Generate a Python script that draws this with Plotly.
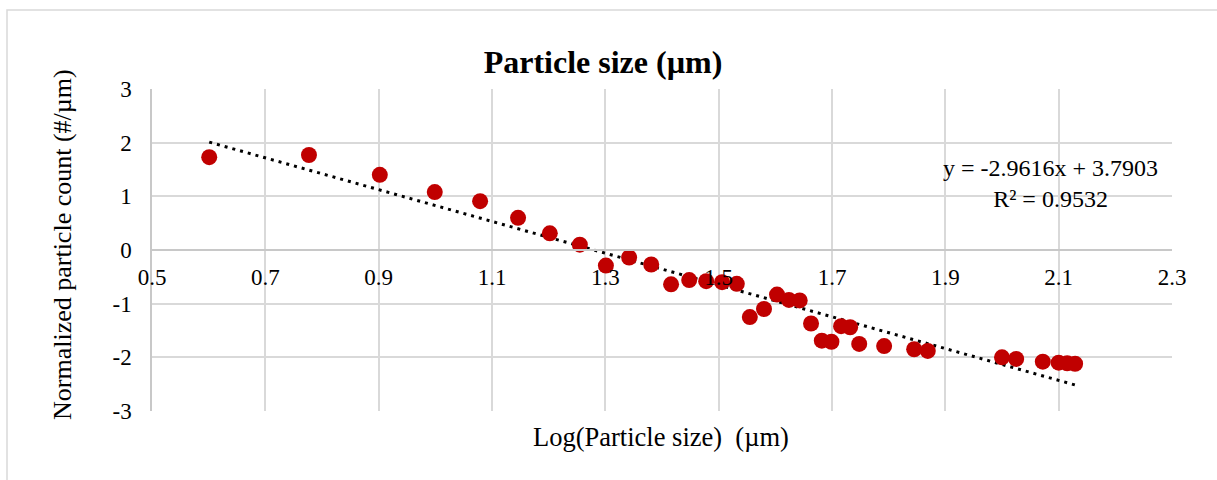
import plotly.graph_objects as go

# Data
log_size = [0.601, 0.777, 0.902, 0.999, 1.079, 1.146, 1.202, 1.255, 1.301, 1.342,
            1.381, 1.416, 1.448, 1.478, 1.506, 1.532, 1.555, 1.580, 1.603, 1.624,
            1.643, 1.663, 1.682, 1.699, 1.716, 1.732, 1.748, 1.792, 1.845, 1.869,
            2.000, 2.025, 2.072, 2.100, 2.115, 2.129]
norm_count = [1.73, 1.77, 1.40, 1.08, 0.91, 0.60, 0.31, 0.10, -0.29, -0.14,
              -0.27, -0.64, -0.56, -0.58, -0.60, -0.63, -1.25, -1.10, -0.83, -0.93,
              -0.94, -1.37, -1.69, -1.71, -1.42, -1.44, -1.75, -1.79, -1.85, -1.88,
              -2.00, -2.03, -2.08, -2.10, -2.11, -2.12]

slope = -2.9616
intercept = 3.7903
r2 = 0.9532

x_ticks = [0.5, 0.7, 0.9, 1.1, 1.3, 1.5, 1.7, 1.9, 2.1, 2.3]
y_ticks = [-3, -2, -1, 0, 1, 2, 3]

FONT = "Liberation Serif, Times New Roman, serif"
GRID = "#d9d9d9"
TICK_SIZE = 23

trend_x = [min(log_size), max(log_size)]
trend_y = [slope * v + intercept for v in trend_x]

fig = go.Figure()
fig.add_trace(go.Scatter(
    x=trend_x, y=trend_y, mode="lines",
    line=dict(color="black", width=3, dash="3px,5px"),
    hoverinfo="skip", showlegend=False,
))
fig.add_trace(go.Scatter(
    x=log_size, y=norm_count, mode="markers",
    marker=dict(color="#c00000", size=16, line=dict(width=0)),
    showlegend=False,
))

fig.update_layout(
    width=1217, height=480,
    paper_bgcolor="white", plot_bgcolor="white",
    margin=dict(l=152, r=45, t=89, b=69),
    font=dict(family=FONT, size=TICK_SIZE, color="black"),
    title=dict(text="<b>Particle size (µm)</b>", x=603 / 1217, xref="container",
               xanchor="center", y=1 - 62 / 480, yref="container", yanchor="middle",
               font=dict(family=FONT, size=32, color="black")),
    xaxis=dict(
        range=[0.5, 2.3], tickvals=x_ticks, ticktext=[f"{v:.1f}" for v in x_ticks],
        showgrid=True, gridcolor=GRID, gridwidth=1.5,
        zeroline=False, showline=True, linecolor="#c8c8c8", linewidth=1.5,
        anchor="free", position=0.5, ticks="", ticklabelstandoff=7,
        tickfont=dict(family=FONT, size=TICK_SIZE, color="black"),
    ),
    yaxis=dict(
        range=[-3, 3], tickvals=y_ticks, ticktext=[str(v) for v in y_ticks],
        showgrid=True, gridcolor=GRID, gridwidth=1.5,
        zeroline=False, showline=True, linecolor="#c8c8c8", linewidth=1.5,
        ticks="", ticklabelstandoff=14,
        tickfont=dict(family=FONT, size=TICK_SIZE, color="black"),
    ),
    annotations=[
        dict(text=f"y = {slope}x + {intercept}<br>R² = {r2}",
             xref="paper", yref="paper", x=(1050 - 152) / 1020, y=(411 - 183) / 322,
             xanchor="center", yanchor="middle", showarrow=False, align="center",
             font=dict(family=FONT, size=24, color="black")),
        dict(text="Log(Particle size)  (µm)",
             xref="paper", yref="paper", x=(661 - 152) / 1020, y=(411 - 437) / 322,
             xanchor="center", yanchor="middle", showarrow=False,
             font=dict(family=FONT, size=26.5, color="black")),
        dict(text="Normalized particle count (#/µm)", textangle=-90,
             xref="paper", yref="paper", x=(62 - 152) / 1020, y=(411 - 245) / 322,
             xanchor="center", yanchor="middle", showarrow=False,
             font=dict(family=FONT, size=26, color="black")),
    ],
    shapes=[dict(
        type="rect", xref="paper", yref="paper",
        x0=(7 - 152) / 1020, x1=(1240 - 152) / 1020,
        y0=(411 - 500) / 322, y1=(411 - 10) / 322,
        line=dict(color="#d9d9d9", width=1.5), fillcolor="rgba(0,0,0,0)", layer="below",
    )],
)

fig.write_html("out.html")
